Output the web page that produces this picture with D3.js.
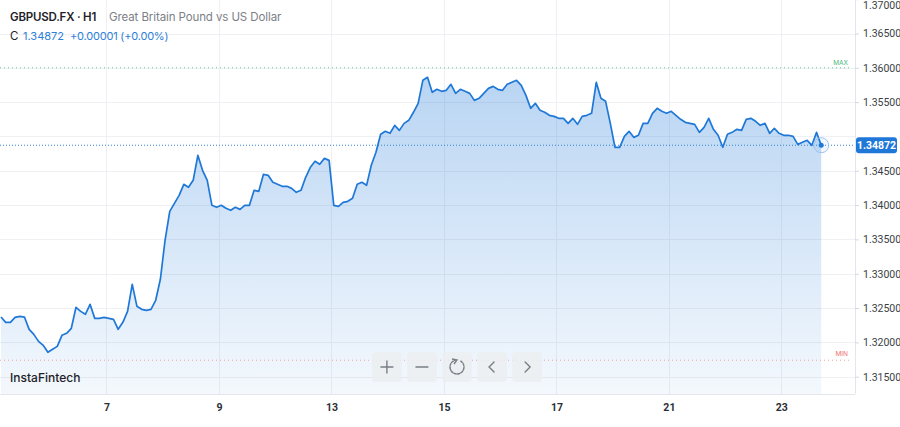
<!DOCTYPE html>
<html>
<head>
<meta charset="utf-8">
<script src="https://cdn.jsdelivr.net/npm/d3@7"></script>
<style>
  body { margin: 0; background: #fff; }
  svg { display: block; font-family: Inter, "Noto Sans", sans-serif; }
</style>
</head>
<body>
<svg width="900" height="427"></svg>
<script>
// hourly closes, sampled every 2 hours (trading-day units, 0 = day "7" at 00:00)
const startDay = -1.875;
const stepDays = 2 / 24;
const closes = [
  1.32369, 1.32292, 1.32292, 1.32365, 1.32380, 1.32369, 1.32190, 1.32117, 1.32015, 1.31957,
  1.31855, 1.31899, 1.31942, 1.32103, 1.32132, 1.32205, 1.32511, 1.32452, 1.32409, 1.32554,
  1.32350, 1.32350, 1.32365, 1.32350, 1.32336, 1.32190, 1.32292, 1.32452, 1.32846, 1.32525,
  1.32482, 1.32467, 1.32482, 1.32613, 1.32919, 1.33487, 1.33909, 1.34026, 1.34142, 1.34303,
  1.34259, 1.34361, 1.34725, 1.34507, 1.34361, 1.33997, 1.33968, 1.33997, 1.33953, 1.33924,
  1.33968, 1.33938, 1.33997, 1.33997, 1.34215, 1.34201, 1.34448, 1.34434, 1.34332, 1.34303,
  1.34274, 1.34274, 1.34244, 1.34186, 1.34215, 1.34405, 1.34550, 1.34638, 1.34594, 1.34681,
  1.34652, 1.33997, 1.33982, 1.34040, 1.34055, 1.34099, 1.34303, 1.34332, 1.34288, 1.34580,
  1.34769, 1.35031, 1.35075, 1.35046, 1.35162, 1.35089, 1.35191, 1.35235, 1.35352, 1.35483,
  1.35818, 1.35862, 1.35643, 1.35687, 1.35658, 1.35672, 1.35760, 1.35628, 1.35687, 1.35658,
  1.35628, 1.35526, 1.35556, 1.35628, 1.35701, 1.35730, 1.35687, 1.35672, 1.35760, 1.35789,
  1.35818, 1.35745, 1.35599, 1.35410, 1.35483, 1.35381, 1.35352, 1.35308, 1.35293, 1.35264,
  1.35264, 1.35191, 1.35264, 1.35177, 1.35293, 1.35308, 1.35337, 1.35789, 1.35556, 1.35512,
  1.35191, 1.34842, 1.34842, 1.35002, 1.35075, 1.34987, 1.35017, 1.35191, 1.35191, 1.35337,
  1.35410, 1.35366, 1.35337, 1.35366, 1.35308, 1.35250, 1.35206, 1.35191, 1.35177, 1.35060,
  1.35133, 1.35264, 1.35104, 1.35017, 1.34842, 1.35031, 1.35060, 1.35104, 1.35089, 1.35250,
  1.35264, 1.35221, 1.35162, 1.35191, 1.35046, 1.35119, 1.35046, 1.35017, 1.35017, 1.35002,
  1.34885, 1.34915, 1.34944, 1.34871, 1.35060, 1.34872
];
const tickDays = [0, 2, 4, 6, 8, 10, 12];
const tickLabels = ['7', '9', '13', '15', '17', '21', '23'];
const priceTicks = [1.315, 1.32, 1.325, 1.33, 1.335, 1.34, 1.345, 1.35, 1.355, 1.36, 1.365, 1.37];
const maxLevel = 1.36;
const minLevel = 1.3174;
const lastPrice = 1.34872;
const change = '+0.00001 (+0.00%)';

const svg = d3.select('svg');
const plotRight = 855;
const plotBottom = 394;
const narrow = '"Liberation Sans Narrow", "Arial Narrow", Roboto, sans-serif';

const x = d3.scaleLinear().domain([-1.893, 13.309]).range([0, plotRight]);
const y = d3.scaleLinear().domain([1.315, 1.365]).range([376.7, 33.5]);

const data = closes.map((c, i) => ({t: startDay + i * stepDays, c}));
const last = data[data.length - 1];

// gradient for area
const defs = svg.append('defs');
const grad = defs.append('linearGradient')
  .attr('id', 'fillGrad')
  .attr('gradientUnits', 'userSpaceOnUse')
  .attr('x1', 0).attr('x2', 0).attr('y1', 70).attr('y2', plotBottom);
grad.append('stop').attr('offset', 0).attr('stop-color', '#1f78d8').attr('stop-opacity', 0.32);
grad.append('stop').attr('offset', 1).attr('stop-color', '#1f78d8').attr('stop-opacity', 0.05);

// grid
const grid = svg.append('g');
grid.selectAll('line.h')
  .data(priceTicks)
  .enter()
  .append('line')
  .attr('x1', 0).attr('x2', plotRight)
  .attr('y1', d => Math.round(y(d)) + 0.5).attr('y2', d => Math.round(y(d)) + 0.5)
  .attr('stroke', '#eef0f3');
grid.selectAll('line.v')
  .data(tickDays)
  .enter()
  .append('line')
  .attr('x1', d => Math.round(x(d)) + 0.5).attr('x2', d => Math.round(x(d)) + 0.5)
  .attr('y1', 0).attr('y2', plotBottom)
  .attr('stroke', '#eef0f3');

// area + line
const area = d3.area()
  .x(d => x(d.t))
  .y0(plotBottom)
  .y1(d => y(d.c));
const line = d3.line()
  .x(d => x(d.t))
  .y(d => y(d.c));

svg.append('path')
  .datum(data)
  .attr('d', area)
  .attr('fill', 'url(#fillGrad)');

// max / min levels
svg.append('line')
  .attr('x1', 0).attr('x2', 850)
  .attr('y1', y(maxLevel)).attr('y2', y(maxLevel))
  .attr('stroke', '#5cc58f').attr('stroke-dasharray', '1,3');
svg.append('text')
  .attr('x', 848).attr('y', y(maxLevel) - 3)
  .attr('text-anchor', 'end')
  .attr('font-size', 6.5)
  .attr('fill', '#4cba7e')
  .text('MAX');
svg.append('line')
  .attr('x1', 0).attr('x2', 850)
  .attr('y1', y(minLevel)).attr('y2', y(minLevel))
  .attr('stroke', '#f2a0a0').attr('stroke-dasharray', '1,3');
svg.append('text')
  .attr('x', 848).attr('y', y(minLevel) - 4)
  .attr('text-anchor', 'end')
  .attr('font-size', 6.5)
  .attr('fill', '#f07070')
  .text('MIN');

// current price line
svg.append('line')
  .attr('x1', 0).attr('x2', plotRight)
  .attr('y1', y(lastPrice)).attr('y2', y(lastPrice))
  .attr('stroke', '#2d80d8').attr('stroke-dasharray', '1,2');

svg.append('path')
  .datum(data)
  .attr('d', line)
  .attr('fill', 'none')
  .attr('stroke', '#1f78d8')
  .attr('stroke-width', 1.7)
  .attr('stroke-linejoin', 'round');

// end marker
svg.append('circle')
  .attr('cx', x(last.t)).attr('cy', y(last.c)).attr('r', 7.5)
  .attr('fill', 'rgba(31,120,216,0.06)')
  .attr('stroke', '#9cc4ee').attr('stroke-width', 1);
svg.append('circle')
  .attr('cx', x(last.t)).attr('cy', y(last.c)).attr('r', 2.5)
  .attr('fill', '#1f78d8');

// axes frame
svg.append('line')
  .attr('x1', plotRight + 0.5).attr('x2', plotRight + 0.5)
  .attr('y1', 0).attr('y2', plotBottom)
  .attr('stroke', '#e3e6ea');
svg.append('line')
  .attr('x1', 0).attr('x2', plotRight)
  .attr('y1', plotBottom + 0.5).attr('y2', plotBottom + 0.5)
  .attr('stroke', '#e3e6ea');

// right axis (the 1.35 level sits behind the price label)
const yAxis = d3.axisRight(y)
  .tickValues(priceTicks.filter(d => Math.abs(y(d) - y(lastPrice)) > 12))
  .tickSize(4)
  .tickPadding(4)
  .tickFormat(d3.format('.5f'));
const yg = svg.append('g')
  .attr('transform', `translate(${plotRight},0)`)
  .call(yAxis);
yg.select('.domain').remove();
yg.selectAll('line').attr('stroke', '#d5d9de');
yg.selectAll('text')
  .attr('fill', '#3a3f45')
  .attr('font-size', 10.5)
  .attr('font-family', narrow);
yg.selectAll('.tick')
  .filter(d => y(d) < 6)
  .select('text')
  .attr('dy', '0.9em');

// bottom axis
const xAxis = d3.axisBottom(x)
  .tickValues(tickDays)
  .tickSize(0)
  .tickPadding(10)
  .tickFormat((d, i) => tickLabels[i]);
const xg = svg.append('g')
  .attr('transform', `translate(0,${plotBottom})`)
  .call(xAxis);
xg.select('.domain').remove();
xg.selectAll('text')
  .attr('fill', '#2a2f35')
  .attr('font-size', 10.5)
  .attr('font-weight', 700)
  .attr('font-family', narrow);

// price label
const py = y(lastPrice);
svg.append('rect')
  .attr('x', plotRight + 1).attr('y', py - 8)
  .attr('width', 41).attr('height', 16).attr('rx', 3)
  .attr('fill', '#1f78d8');
svg.append('text')
  .attr('x', plotRight + 21.5).attr('y', py + 3.5)
  .attr('text-anchor', 'middle')
  .attr('fill', '#fff')
  .attr('font-size', 10.5)
  .attr('font-weight', 700)
  .attr('font-family', narrow)
  .text(lastPrice.toFixed(5));

// header
const head = svg.append('g');
head.append('text')
  .attr('x', 10).attr('y', 21)
  .attr('font-size', 11.5).attr('font-weight', 600).attr('fill', '#1e2228')
  .attr('letter-spacing', -0.2)
  .text('GBPUSD.FX · H1');
head.append('text')
  .attr('x', 109).attr('y', 21)
  .attr('font-size', 11.5).attr('fill', '#7c8087')
  .attr('letter-spacing', -0.1)
  .text('Great Britain Pound vs US Dollar');
head.append('text')
  .attr('x', 10).attr('y', 40)
  .attr('font-size', 11.5).attr('fill', '#1e2228')
  .text('C');
head.append('text')
  .attr('x', 23).attr('y', 40)
  .attr('font-size', 11).attr('fill', '#2d80d8')
  .text(lastPrice.toFixed(5));
head.append('text')
  .attr('x', 70).attr('y', 40)
  .attr('font-size', 11).attr('fill', '#2d80d8')
  .attr('letter-spacing', -0.2)
  .text(change);

// logo
svg.append('text')
  .attr('x', 10).attr('y', 382)
  .attr('font-size', 12).attr('font-weight', 500).attr('fill', '#1e2228')
  .text('InstaFintech');

// control buttons
const buttons = ['plus', 'minus', 'reset', 'left', 'right'];
const bx = d3.scaleBand().domain(buttons).range([372, 542]).paddingInner(0.15);
const btn = svg.append('g')
  .selectAll('g')
  .data(buttons)
  .enter()
  .append('g')
  .attr('transform', d => `translate(${bx(d)},352)`);
btn.append('rect')
  .attr('width', bx.bandwidth()).attr('height', 30).attr('rx', 4)
  .attr('fill', '#eceef1').attr('opacity', 0.85);
const cx = bx.bandwidth() / 2;
const icons = {
  plus: `M${cx - 6},15 H${cx + 6} M${cx},9 V21`,
  minus: `M${cx - 6},15 H${cx + 6}`,
  left: `M${cx + 2},10 L${cx - 3},15 L${cx + 2},20`,
  right: `M${cx - 2},10 L${cx + 3},15 L${cx - 2},20`
};
btn.filter(d => d !== 'reset')
  .append('path')
  .attr('d', d => icons[d])
  .attr('fill', 'none')
  .attr('stroke', '#7a7f86')
  .attr('stroke-width', 1.4)
  .attr('stroke-linecap', 'round');
const reset = btn.filter(d => d === 'reset');
const arc = d3.arc().innerRadius(7).outerRadius(7).startAngle(0.5).endAngle(2 * Math.PI - 0.2);
reset.append('path')
  .attr('transform', `translate(${cx},15)`)
  .attr('d', arc())
  .attr('fill', 'none')
  .attr('stroke', '#7a7f86')
  .attr('stroke-width', 1.4)
  .attr('stroke-dasharray', '2.5,1.2');
reset.append('path')
  .attr('d', `M${cx - 5},7 L${cx},8 L${cx - 3},12`)
  .attr('fill', 'none')
  .attr('stroke', '#7a7f86')
  .attr('stroke-width', 1.4);
</script>
</body>
</html>
